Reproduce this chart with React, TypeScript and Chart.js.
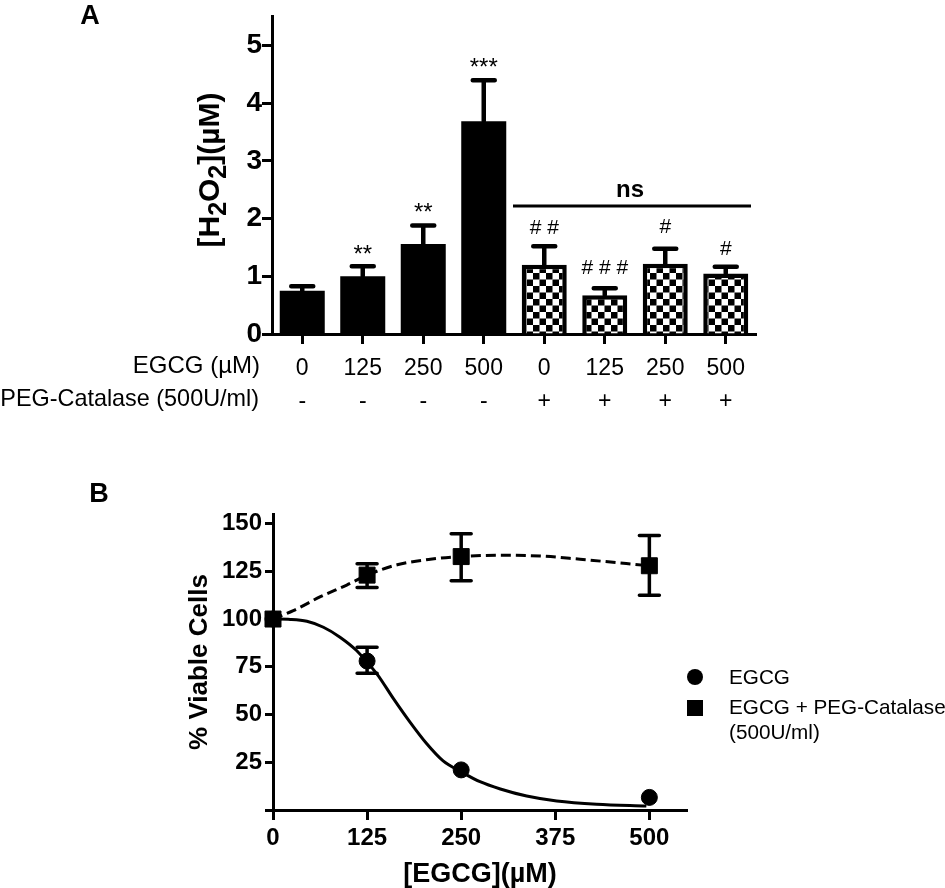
import { useEffect, useRef } from "react";
import { Chart, registerables } from "chart.js";

Chart.register(...registerables);
Chart.defaults.font.family = "'Liberation Sans', Arial, sans-serif";
Chart.defaults.color = "#000";

// panel A
const doses = ["0", "125", "250", "500", "0", "125", "250", "500"];
const catalaseSigns = ["-", "-", "-", "-", "+", "+", "+", "+"];
const h2o2Mean = [0.75, 1.0, 1.56, 3.69, 1.2, 0.67, 1.22, 1.05];
const h2o2Upper = [0.83, 1.175, 1.88, 4.4, 1.52, 0.795, 1.48, 1.165];
const h2o2Ticks = [0, 1, 2, 3, 4, 5];
const marks = ["**", "**", "***", "# #", "# # #", "#", "#"];
const markIndex = [1, 2, 3, 4, 5, 6, 7];
const markValue = [1.43, 2.16, 4.67, 1.83, 1.14, 1.86, 1.47];

// panel B
const viabilityTicks = [0, 25, 50, 75, 100, 125, 150];
const egcgTicks = [0, 125, 250, 375, 500];
const pointDoses = [0, 125, 250, 500];
const egcgMean = [100, 78, 21, 6.6];
const egcgHigh = [100, 85.2, 21, 6.6];
const egcgLow = [100, 71.6, 21, 6.6];
const catalaseMean = [100, 123, 132.7, 127.9];
const catalaseHigh = [100, 129, 144.7, 143.7];
const catalaseLow = [100, 116.5, 120, 112.5];
const egcgCurveX = [0, 23, 45, 67, 89, 111, 138, 160, 182, 204, 226, 250, 275, 302, 337, 377, 430, 496];
const egcgCurveY = [100, 99.8, 98.8, 95.7, 90.5, 83.5, 71.3, 58.3, 46, 34.8, 25.7, 20, 14.8, 11, 7.3, 4.7, 3, 2.1];
const catalaseCurveX = [0, 27, 63, 98, 125, 165, 209, 250, 302, 355, 408, 500];
const catalaseCurveY = [100, 104.4, 111.7, 117.8, 123, 128.4, 131.3, 132.7, 133.4, 133, 131.3, 127.9];

const sans = "'Liberation Sans', Arial, sans-serif";

function checkers() {
  const c = document.createElement("canvas");
  c.width = 13;
  c.height = 13;
  const g = c.getContext("2d")!;
  g.fillStyle = "#fff";
  g.fillRect(0, 0, 13, 13);
  g.fillStyle = "#000";
  g.fillRect(0, 0, 6.5, 6.5);
  g.fillRect(6.5, 6.5, 6.5, 6.5);
  return g.createPattern(c, "repeat")!;
}

function text(ctx: CanvasRenderingContext2D, s: string, x: number, y: number, font: string, align: CanvasTextAlign = "center") {
  ctx.font = font;
  ctx.textAlign = align;
  ctx.textBaseline = "middle";
  ctx.fillStyle = "#000";
  ctx.fillText(s, x, y);
}

function cappedLine(ctx: CanvasRenderingContext2D, x: number, y0: number, y1: number, capWidth: number, width: number) {
  ctx.strokeStyle = "#000";
  ctx.lineWidth = width;
  ctx.lineCap = "round";
  ctx.beginPath();
  ctx.moveTo(x, y0);
  ctx.lineTo(x, y1);
  ctx.moveTo(x - capWidth / 2, y1);
  ctx.lineTo(x + capWidth / 2, y1);
  ctx.stroke();
  ctx.lineCap = "butt";
}

const panelADecor = {
  id: "panelADecor",
  afterDatasetsDraw(chart: any) {
    const { ctx, scales } = chart;
    const { x, y } = scales;
    ctx.save();
    h2o2Upper.forEach((v, i) => {
      cappedLine(ctx, x.getPixelForValue(i), y.getPixelForValue(h2o2Mean[i]), y.getPixelForValue(v), 22, 4.5);
    });
    marks.forEach((m, i) => {
      const font = m.startsWith("#") ? `21px ${sans}` : `24px ${sans}`;
      const shift = m.startsWith("#") ? 0 : 4;
      text(ctx, m, x.getPixelForValue(markIndex[i]), y.getPixelForValue(markValue[i]) + shift, font);
    });
    // ns bracket
    const ly = y.getPixelForValue(2.22);
    ctx.strokeStyle = "#000";
    ctx.lineWidth = 3;
    ctx.beginPath();
    ctx.moveTo(513, ly);
    ctx.lineTo(751, ly);
    ctx.stroke();
    text(ctx, "ns", 630, 190, `bold 24px ${sans}`);
    text(ctx, "A", 90, 17, `bold 27px ${sans}`);
    text(ctx, "EGCG (µM)", 260, 366, `24px ${sans}`, "right");
    text(ctx, "PEG-Catalase (500U/ml)", 259, 400, `23.4px ${sans}`, "right");

    // rotated title with subscripts
    ctx.translate(211, 170);
    ctx.rotate(-Math.PI / 2);
    const parts: [string, number, number][] = [
      ["[H", 30, 0],
      ["2", 25, 8],
      ["O", 30, 0],
      ["2", 25, 8],
      ["](µM)", 30, 0],
    ];
    let total = 0;
    parts.forEach(([s, size]) => {
      ctx.font = `bold ${size}px ${sans}`;
      total += ctx.measureText(s).width;
    });
    let px = -total / 2;
    parts.forEach(([s, size, dy]) => {
      text(ctx, s, px, dy, `bold ${size}px ${sans}`, "left");
      px += ctx.measureText(s).width;
    });
    ctx.restore();
  },
};

const panelBDecor = {
  id: "panelBDecor",
  beforeDatasetsDraw(chart: any) {
    const { ctx, scales } = chart;
    const { x, y } = scales;
    ctx.save();
    pointDoses.forEach((d, i) => {
      if (egcgHigh[i] !== egcgLow[i]) {
        cappedLine(ctx, x.getPixelForValue(d), y.getPixelForValue(egcgMean[i]), y.getPixelForValue(egcgHigh[i]), 20, 3.5);
        cappedLine(ctx, x.getPixelForValue(d), y.getPixelForValue(egcgMean[i]), y.getPixelForValue(egcgLow[i]), 20, 3.5);
      }
      if (catalaseHigh[i] !== catalaseLow[i]) {
        cappedLine(ctx, x.getPixelForValue(d), y.getPixelForValue(catalaseMean[i]), y.getPixelForValue(catalaseHigh[i]), 20, 3.5);
        cappedLine(ctx, x.getPixelForValue(d), y.getPixelForValue(catalaseMean[i]), y.getPixelForValue(catalaseLow[i]), 20, 3.5);
      }
    });
    ctx.restore();
  },
  afterDatasetsDraw(chart: any) {
    const { ctx } = chart;
    ctx.save();
    text(ctx, "B", 99, 45, `bold 27px ${sans}`);
    // legend
    ctx.fillStyle = "#000";
    ctx.beginPath();
    ctx.arc(695, 227, 8, 0, Math.PI * 2);
    ctx.fill();
    ctx.fillRect(687, 250, 16, 16);
    text(ctx, "EGCG", 729, 228, `20.7px ${sans}`, "left");
    text(ctx, "EGCG + PEG-Catalase", 729, 258, `20.7px ${sans}`, "left");
    text(ctx, "(500U/ml)", 729, 283, `20.7px ${sans}`, "left");
    ctx.restore();
  },
};

function PanelA() {
  const ref = useRef<HTMLCanvasElement>(null);

  useEffect(() => {
    if (!ref.current) return;
    const pattern = checkers();
    const chart = new Chart(ref.current, {
      type: "bar",
      plugins: [panelADecor],
      data: {
        labels: doses.map((d, i) => [d, catalaseSigns[i]]),
        datasets: [
          {
            data: h2o2Mean,
            backgroundColor: doses.map((_, i) => (i < 4 ? "#000" : pattern)),
            borderColor: "#000",
            borderWidth: doses.map((_, i) => (i < 4 ? 0 : 4.5)),
            borderSkipped: "bottom",
            barPercentage: 0.744,
            categoryPercentage: 1,
          },
        ],
      },
      options: {
        responsive: false,
        animation: false,
        devicePixelRatio: 1,
        layout: { padding: { top: 12, right: 189 } },
        plugins: { legend: { display: false }, tooltip: { enabled: false } },
        scales: {
          x: {
            grid: { offset: false, drawOnChartArea: false, tickLength: 10, tickWidth: 3, tickColor: "#000" },
            border: { color: "#000", width: 3 },
            ticks: { font: { size: 23, lineHeight: 1.43 }, color: "#000", padding: 8, maxRotation: 0, autoSkip: false },
            afterFit: (s: any) => {
              s.height = 106;
            },
          },
          y: {
            min: 0,
            max: 5.5,
            grid: { drawOnChartArea: false, tickLength: 10, tickWidth: 3, tickColor: "#000" },
            border: { color: "#000", width: 3 },
            ticks: { font: { size: 28, weight: "bold" }, color: "#000", padding: 0 },
            afterBuildTicks: (s: any) => {
              s.ticks = h2o2Ticks.map((value) => ({ value }));
            },
            afterFit: (s: any) => {
              s.width = 272;
            },
          },
        },
      },
    });
    return () => {
      chart.destroy();
    };
  }, [ref]);

  return <canvas ref={ref} width={945} height={440} style={{ position: "absolute", left: 0, top: 0 }} />;
}

function PanelB() {
  const ref = useRef<HTMLCanvasElement>(null);

  useEffect(() => {
    if (!ref.current) return;
    const chart = new Chart(ref.current, {
      type: "scatter",
      plugins: [panelBDecor],
      data: {
        datasets: [
          {
            label: "EGCG curve",
            data: egcgCurveX.map((x, i) => ({ x, y: egcgCurveY[i] })),
            showLine: true,
            pointRadius: 0,
            borderColor: "#000",
            borderWidth: 3,
            cubicInterpolationMode: "monotone",
          },
          {
            label: "EGCG + PEG-Catalase curve",
            data: catalaseCurveX.map((x, i) => ({ x, y: catalaseCurveY[i] })),
            showLine: true,
            pointRadius: 0,
            borderColor: "#000",
            borderWidth: 3,
            borderDash: [10, 5],
            cubicInterpolationMode: "monotone",
          },
          {
            label: "EGCG",
            data: pointDoses.map((x, i) => ({ x, y: egcgMean[i] })),
            pointStyle: "circle",
            pointRadius: 8,
            backgroundColor: "#000",
            borderColor: "#000",
            clip: false,
          },
          {
            label: "EGCG + PEG-Catalase",
            data: pointDoses.map((x, i) => ({ x, y: catalaseMean[i] })),
            pointStyle: "rect",
            pointRadius: 11.3,
            backgroundColor: "#000",
            borderColor: "#000",
            clip: false,
          },
        ],
      },
      options: {
        responsive: false,
        animation: false,
        devicePixelRatio: 1,
        layout: { padding: { top: 64, right: 258 } },
        plugins: { legend: { display: false }, tooltip: { enabled: false } },
        scales: {
          x: {
            type: "linear",
            min: 0,
            max: 550,
            grid: { drawOnChartArea: false, tickLength: 10, tickWidth: 3, tickColor: "#000" },
            border: { color: "#000", width: 3 },
            ticks: { font: { size: 24, weight: "bold" }, color: "#000", padding: 4, maxRotation: 0 },
            title: { display: true, text: "[EGCG](µM)", color: "#000", font: { size: 27, weight: "bold", lineHeight: 1 }, padding: 0 },
            afterBuildTicks: (s: any) => {
              s.ticks = egcgTicks.map((value) => ({ value }));
            },
            afterFit: (s: any) => {
              s.height = 78;
            },
          },
          y: {
            min: 0,
            max: 155,
            grid: { drawOnChartArea: false, tickLength: 8, tickWidth: 3, tickColor: "#000" },
            border: { color: "#000", width: 3 },
            ticks: {
              font: { size: 24, weight: "bold" },
              color: "#000",
              padding: 3,
              callback: (v: any) => (v === 0 ? "" : v),
            },
            title: { display: true, text: "% Viable Cells", color: "#000", font: { size: 26, weight: "bold" }, padding: { top: 184 } },
            afterBuildTicks: (s: any) => {
              s.ticks = viabilityTicks.map((value) => ({ value }));
            },
            afterFit: (s: any) => {
              s.width = 273;
            },
          },
        },
      },
    });
    return () => {
      chart.destroy();
    };
  }, [ref]);

  return <canvas ref={ref} width={945} height={438} style={{ position: "absolute", left: 0, top: 450 }} />;
}

export default function App() {
  return (
    <div>
      <PanelA />
      <PanelB />
    </div>
  );
}
